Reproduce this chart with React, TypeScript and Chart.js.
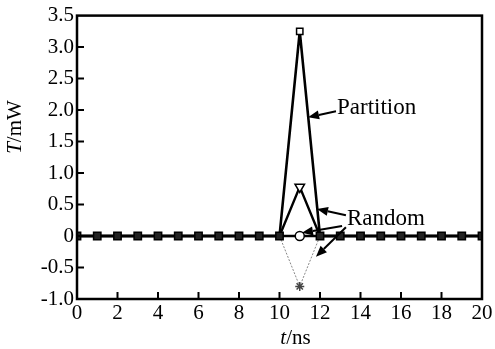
import React, { useEffect, useRef } from "react";
import { Chart, registerables } from "chart.js";

Chart.register(...registerables);

const times = [0, 1, 2, 3, 4, 5, 6, 7, 8, 9, 10, 11, 12, 13, 14, 15, 16, 17, 18, 19, 20];
const partition = [0, 0, 0, 0, 0, 0, 0, 0, 0, 0, 0, 3.25, 0, 0, 0, 0, 0, 0, 0, 0, 0];
const randomTri = [0, 0, 0, 0, 0, 0, 0, 0, 0, 0, 0, 0.78, 0, 0, 0, 0, 0, 0, 0, 0, 0];
const randomCircle = [0, 0, 0, 0, 0, 0, 0, 0, 0, 0, 0, 0, 0, 0, 0, 0, 0, 0, 0, 0, 0];
const randomStar = [0, 0, 0, 0, 0, 0, 0, 0, 0, 0, 0, -0.8, 0, 0, 0, 0, 0, 0, 0, 0, 0];
const xTicks = [0, 2, 4, 6, 8, 10, 12, 14, 16, 18, 20];
const yTicks = [-1.0, -0.5, 0, 0.5, 1.0, 1.5, 2.0, 2.5, 3.0, 3.5];

// annotations in data coordinates
const partitionLabel = { x: 12.84, y: 2.03, text: "Partition" };
const partitionArrows = [{ from: [12.79, 1.98], to: [11.41, 1.886] }];
const randomLabel = { x: 13.33, y: 0.27, text: "Random" };
const randomArrows = [
  { from: [13.28, 0.33], to: [11.85, 0.43] },
  { from: [13.09, 0.16], to: [11.11, 0.05] },
  { from: [13.28, 0.14], to: [11.8, -0.33] },
];

const FONT = "'Liberation Serif', 'Times New Roman', serif";

const pts = (arr: number[]) => times.map((t, i) => ({ x: t, y: arr[i] }));

const decor = {
  id: "decor",
  afterDraw(chart: any) {
    const { ctx, chartArea: a, scales } = chart;
    const xs = scales.x;
    const ys = scales.y;
    ctx.save();
    ctx.strokeStyle = "#000";
    ctx.fillStyle = "#000";
    // inward ticks
    ctx.lineWidth = 2;
    ctx.beginPath();
    for (const t of xTicks) {
      if (t === 0 || t === 20) continue;
      const px = xs.getPixelForValue(t);
      ctx.moveTo(px, a.bottom);
      ctx.lineTo(px, a.bottom - 7);
    }
    for (const t of yTicks) {
      if (t === -1 || t === 3.5) continue;
      const py = ys.getPixelForValue(t);
      ctx.moveTo(a.left, py);
      ctx.lineTo(a.left + 7, py);
    }
    ctx.stroke();
    // frame
    ctx.lineWidth = 2.5;
    ctx.strokeRect(a.left, a.top, a.right - a.left, a.bottom - a.top);

    // axis titles
    ctx.textBaseline = "middle";
    ctx.textAlign = "left";
    ctx.font = `italic 21px ${FONT}`;
    const w1 = ctx.measureText("t").width;
    ctx.font = `21px ${FONT}`;
    const w2 = ctx.measureText("/ns").width;
    const cx = (a.left + a.right) / 2 + 16;
    const sx = cx - (w1 + w2) / 2;
    ctx.font = `italic 21px ${FONT}`;
    ctx.fillText("t", sx, 338);
    ctx.font = `21px ${FONT}`;
    ctx.fillText("/ns", sx + w1, 338);
    // y title
    ctx.save();
    ctx.translate(15, 127);
    ctx.rotate(-Math.PI / 2);
    ctx.font = `italic 21px ${FONT}`;
    const v1 = ctx.measureText("T").width;
    ctx.font = `21px ${FONT}`;
    const v2 = ctx.measureText("/mW").width;
    const sy = -(v1 + v2) / 2;
    ctx.font = `italic 21px ${FONT}`;
    ctx.fillText("T", sy, 0);
    ctx.font = `21px ${FONT}`;
    ctx.fillText("/mW", sy + v1, 0);
    ctx.restore();

    // annotations
    const arrow = (f: number[], t: number[]) => {
      const x1 = xs.getPixelForValue(f[0]);
      const y1 = ys.getPixelForValue(f[1]);
      const x2 = xs.getPixelForValue(t[0]);
      const y2 = ys.getPixelForValue(t[1]);
      const ang = Math.atan2(y2 - y1, x2 - x1);
      const hl = 11;
      const hw = 4.5;
      const bx = x2 - hl * Math.cos(ang);
      const by = y2 - hl * Math.sin(ang);
      ctx.lineWidth = 2;
      ctx.beginPath();
      ctx.moveTo(x1, y1);
      ctx.lineTo(bx, by);
      ctx.stroke();
      ctx.beginPath();
      ctx.moveTo(x2, y2);
      ctx.lineTo(bx + hw * Math.sin(ang), by - hw * Math.cos(ang));
      ctx.lineTo(bx - hw * Math.sin(ang), by + hw * Math.cos(ang));
      ctx.closePath();
      ctx.fill();
    };
    partitionArrows.forEach((a2) => arrow(a2.from, a2.to));
    randomArrows.forEach((a2) => arrow(a2.from, a2.to));
    ctx.font = `23px ${FONT}`;
    ctx.textAlign = "left";
    ctx.textBaseline = "middle";
    ctx.fillText(partitionLabel.text, xs.getPixelForValue(partitionLabel.x), ys.getPixelForValue(partitionLabel.y));
    ctx.fillText(randomLabel.text, xs.getPixelForValue(randomLabel.x), ys.getPixelForValue(randomLabel.y));
    ctx.restore();
  },
};

export default function App() {
  const ref = useRef<HTMLCanvasElement>(null);
  useEffect(() => {
    if (!ref.current) return;
    const onlyPeak = (r: number) => (c: any) => (c.dataIndex === 11 ? r : 0);
    const chart = new Chart(ref.current, {
      type: "line",
      data: {
        datasets: [
          {
            data: pts(randomStar),
            borderColor: "#888",
            borderWidth: 1,
            borderDash: [2, 1.5],
            pointStyle: "star",
            pointRadius: onlyPeak(4.5),
            pointBorderColor: "#444",
            pointBorderWidth: 1.5,
            order: 4,
          },
          {
            data: pts(randomCircle),
            borderColor: "#000",
            borderWidth: 2.4,
            pointStyle: "circle",
            pointRadius: onlyPeak(4.5),
            pointBackgroundColor: "#fff",
            pointBorderColor: "#000",
            pointBorderWidth: 1.5,
            order: 3,
          },
          {
            data: pts(randomTri),
            borderColor: "#000",
            borderWidth: 2.4,
            pointStyle: "triangle",
            rotation: 180,
            pointRadius: onlyPeak(5.5),
            pointBackgroundColor: "#fff",
            pointBorderColor: "#000",
            pointBorderWidth: 1.5,
            order: 2,
          },
          {
            data: pts(partition),
            borderColor: "#000",
            borderWidth: 2.6,
            pointStyle: "rect",
            pointRadius: (c: any) => (c.dataIndex === 11 ? 4.5 : 5.2),
            pointBackgroundColor: (c: any) => (c.dataIndex === 11 ? "#fff" : "#222"),
            pointBorderColor: "#000",
            pointBorderWidth: 1.5,
            order: 1,
          },
        ],
      },
      options: {
        responsive: false,
        animation: false,
        layout: { padding: { top: 15, right: 13, left: 0, bottom: 0 } },
        plugins: { legend: { display: false }, tooltip: { enabled: false } },
        scales: {
          x: {
            type: "linear",
            min: 0,
            max: 20,
            afterBuildTicks: (s: any) => {
              s.ticks = xTicks.map((v) => ({ value: v }));
            },
            afterFit: (s: any) => {
              s.height = 50;
            },
            grid: { display: false, drawTicks: false },
            border: { display: false },
            ticks: {
              color: "#000",
              font: { family: FONT, size: 21 },
              padding: 2,
              maxRotation: 0,
              autoSkip: false,
            },
          },
          y: {
            type: "linear",
            min: -1,
            max: 3.5,
            afterBuildTicks: (s: any) => {
              s.ticks = yTicks.map((v) => ({ value: v }));
            },
            afterFit: (s: any) => {
              s.width = 77;
            },
            grid: { display: false, drawTicks: false },
            border: { display: false },
            ticks: {
              color: "#000",
              font: { family: FONT, size: 21 },
              padding: 3,
              autoSkip: false,
              callback: (v: any) => (Number(v) === 0 ? "0" : Number(v).toFixed(1)),
            },
          },
        },
      },
      plugins: [decor],
    });
    return () => chart.destroy();
  }, []);
  return (
    <div style={{ position: "fixed", left: 0, top: 0, width: 495, height: 349, background: "#fff" }}>
      <canvas ref={ref} width={495} height={349} />
    </div>
  );
}
